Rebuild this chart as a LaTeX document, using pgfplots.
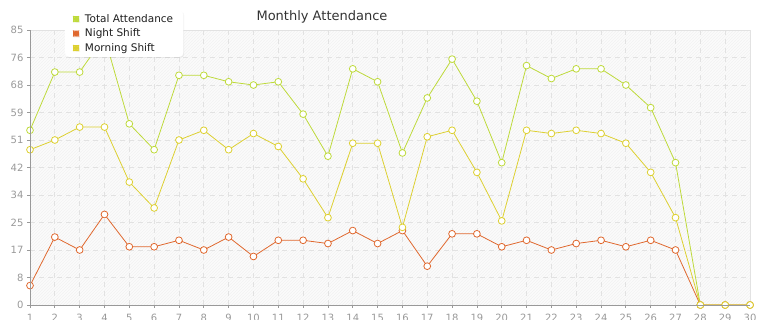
\documentclass[border=0pt]{standalone}
\usepackage{fontspec}
\setmainfont{DejaVu Sans}
\usepackage{pgfplots}
\pgfplotsset{compat=1.18}
\usetikzlibrary{patterns,shadows}
\definecolor{totalc}{HTML}{BEDA3A}
\definecolor{nightc}{HTML}{E0682E}
\definecolor{morningc}{HTML}{DDD030}
\definecolor{gridc}{HTML}{E2E2E2}
\definecolor{tickc}{HTML}{999999}
\definecolor{titlec}{HTML}{333333}
\begin{document}
\begin{tikzpicture}
\path[use as bounding box] (0pt,0pt) rectangle (765pt,320pt);
\begin{axis}[
  at={(30pt,15pt)}, anchor=south west,
  scale only axis, width=720pt, height=275pt,
  xmin=1, xmax=30, ymin=0, ymax=85,
  xtick={1,...,30},
  ytick={0,8.5,17,25.5,34,42.5,51,59.5,68,76.5,85},
  yticklabels={0,8,17,25,34,42,51,59,68,76,85},
  /pgf/number format/assume math mode=true,
  tick label style={font=\fontsize{10}{12}\selectfont, text=tickc},
  xticklabel style={yshift=-3pt},
  tick align=outside, major tick length=3pt,
  tick style={draw=tickc, line width=0.8pt},
  xtick pos=bottom, ytick pos=left,
  grid=major,
  major grid style={draw=gridc, dash pattern=on 5pt off 4pt, line width=0.8pt},
  axis line style={draw=gridc, line width=0.8pt},
  axis background/.style={fill=black!1.5, postaction={pattern=north east lines, pattern color=black!5}},
  legend style={at={(rel axis cs:0.0486,0.902)}, anchor=south west,
    fill=white, draw=white, rounded corners=4pt,
    drop shadow={opacity=0.12, shadow xshift=1pt, shadow yshift=-1pt},
    font=\fontsize{10.5}{13}\selectfont, text=black!88,
    row sep=1pt, column sep=4pt, inner xsep=8pt, inner ysep=2pt},
  legend cell align=left,
  legend image code/.code={\fill[#1] (2pt,-2.5pt) rectangle (7pt,2.5pt);},
  every axis plot/.append style={line width=0.8pt, mark=*, mark size=3.4pt,
    mark options={fill=white, line width=0.8pt}},
]
\addplot[color=totalc] coordinates {
(1,54) (2,72) (3,72) (4,83) (5,56) (6,48) (7,71) (8,71) (9,69) (10,68)
(11,69) (12,59) (13,46) (14,73) (15,69) (16,47) (17,64) (18,76) (19,63) (20,44)
(21,74) (22,70) (23,73) (24,73) (25,68) (26,61) (27,44) (28,0) (29,0) (30,0)};
\addlegendentry{Total Attendance}
\addplot[color=nightc] coordinates {
(1,6) (2,21) (3,17) (4,28) (5,18) (6,18) (7,20) (8,17) (9,21) (10,15)
(11,20) (12,20) (13,19) (14,23) (15,19) (16,23) (17,12) (18,22) (19,22) (20,18)
(21,20) (22,17) (23,19) (24,20) (25,18) (26,20) (27,17) (28,0) (29,0) (30,0)};
\addlegendentry{Night Shift}
\addplot[color=morningc] coordinates {
(1,48) (2,51) (3,55) (4,55) (5,38) (6,30) (7,51) (8,54) (9,48) (10,53)
(11,49) (12,39) (13,27) (14,50) (15,50) (16,24) (17,52) (18,54) (19,41) (20,26)
(21,54) (22,53) (23,54) (24,53) (25,50) (26,41) (27,27) (28,0) (29,0) (30,0)};
\addlegendentry{Morning Shift}
\end{axis}
\draw[tickc, line width=0.8pt] (30pt,15pt) -- (30pt,290pt);
\draw[tickc, line width=0.8pt] (30pt,15pt) -- (750pt,15pt);
\node[text=titlec, font=\fontsize{13}{15}\selectfont] at (322pt,303pt) {Monthly Attendance};
\end{tikzpicture}
\end{document}
